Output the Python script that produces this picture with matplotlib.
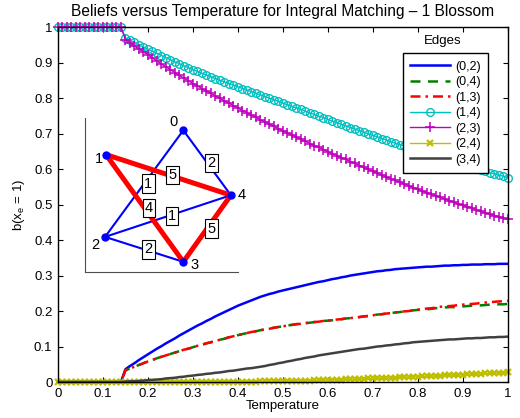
import numpy as np
import matplotlib
matplotlib.use('Agg')
import matplotlib.pyplot as plt

plt.rcParams['font.family'] = ['Liberation Sans', 'DejaVu Sans']
plt.rcParams['mathtext.default'] = 'regular'

# data: temperature grid and beliefs per edge
temperature = np.arange(101) / 100.0

b_02 = [0.0] * 15 + [
    .036, .045, .053, .062, .070, .078, .086, .094, .101, .109,
    .116, .123, .131, .138, .145, .152, .159, .165, .172, .178,
    .185, .191, .197, .203, .209, .215, .220, .225, .230, .235,
    .240, .244, .248, .251, .255, .258, .261, .264, .267, .270,
    .273, .276, .279, .282, .284, .287, .290, .292, .295, .297,
    .300, .302, .304, .306, .308, .310, .312, .313, .315, .316,
    .318, .319, .320, .321, .322, .323, .324, .325, .325, .326,
    .327, .328, .328, .329, .329, .330, .330, .331, .331, .331,
    .332, .332, .332, .333, .333, .333]

b_04 = [0.0] * 15 + [
    .033, .038, .043, .048, .053, .058, .062, .067, .071, .075,
    .079, .083, .087, .091, .094, .098, .102, .105, .109, .112,
    .116, .119, .122, .126, .129, .132, .135, .138, .141, .143,
    .146, .148, .150, .153, .155, .157, .159, .161, .163, .164,
    .166, .167, .169, .170, .172, .173, .174, .176, .177, .179,
    .180, .182, .183, .185, .186, .188, .190, .191, .193, .194,
    .196, .197, .199, .200, .202, .203, .204, .205, .206, .208,
    .209, .210, .211, .211, .212, .213, .214, .215, .215, .216,
    .217, .218, .218, .219, .219, .220]

b_13 = b_04[:80] + [
    .204, .205, .207, .208, .210, .212, .213, .214, .215, .217,
    .218, .219, .220, .221, .223, .224, .225, .226, .227, .228,
    .229]

b_14 = [1.0] * 15 + [
    .970, .963, .957, .950, .944, .938, .932, .926, .920, .914,
    .908, .902, .897, .891, .886, .880, .875, .870, .865, .860,
    .855, .850, .846, .841, .837, .832, .827, .823, .818, .814,
    .809, .804, .800, .795, .791, .786, .781, .777, .772, .768,
    .763, .758, .754, .749, .745, .740, .735, .731, .726, .722,
    .717, .713, .708, .704, .699, .695, .691, .686, .682, .677,
    .673, .669, .665, .661, .657, .653, .649, .645, .641, .637,
    .633, .629, .625, .621, .617, .613, .609, .605, .602, .598,
    .594, .590, .587, .583, .580, .576]

b_23 = [1.0] * 15 + [
    .965, .956, .947, .939, .930, .922, .913, .905, .896, .888,
    .880, .872, .864, .856, .849, .841, .834, .827, .820, .813,
    .806, .799, .792, .786, .779, .772, .765, .759, .752, .746,
    .739, .733, .727, .720, .714, .708, .702, .696, .690, .684,
    .678, .672, .666, .661, .655, .649, .643, .638, .632, .627,
    .621, .616, .610, .605, .599, .594, .589, .583, .578, .573,
    .568, .563, .558, .553, .548, .543, .538, .534, .529, .525,
    .520, .516, .511, .507, .502, .498, .494, .490, .485, .481,
    .477, .473, .469, .466, .462, .458]

b_24 = [0.0] * 35 + [.001] * 10 + [.002] * 5 + [.003] * 5 + [
    .004, .004, .005, .005, .006, .006, .006, .007, .007, .008,
    .008, .008, .009, .009, .010, .010, .010, .011, .011, .012,
    .012, .013, .013, .014, .014, .015, .016, .016, .017, .017,
    .018, .019, .019, .020, .020, .021, .022, .022, .023, .023,
    .024, .025, .025, .026, .026, .027]

b_34 = [0.0] * 15 + [
    .001, .002, .002, .003, .004, .005, .006, .007, .008, .010,
    .011, .012, .014, .015, .017, .018, .020, .021, .023, .024,
    .026, .027, .029, .031, .032, .034, .036, .038, .039, .041,
    .043, .045, .048, .050, .053, .055, .058, .060, .063, .065,
    .068, .070, .072, .075, .077, .079, .081, .083, .085, .087,
    .089, .091, .093, .094, .096, .098, .100, .101, .103, .104,
    .106, .107, .109, .110, .112, .113, .114, .115, .116, .117,
    .118, .119, .120, .120, .121, .122, .123, .123, .124, .124,
    .125, .126, .126, .127, .127, .128]

edge_labels = ['(0,2)', '(0,4)', '(1,3)', '(1,4)', '(2,3)', '(2,4)', '(3,4)']

# inset graph
node_x = [0.643, 0.137, 0.131, 0.643, 0.954]
node_y = [0.922, 0.764, 0.229, 0.067, 0.500]
graph_edges = [(0, 2), (0, 4), (1, 3), (1, 4), (2, 3), (2, 4), (3, 4)]
edge_weights = ['1', '2', '4', '5', '2', '1', '5']
matched = [(1, 3), (1, 4), (3, 4)]

fig = plt.figure(figsize=(5.2, 4.18), dpi=100)
ax = fig.add_axes([0.1115, 0.0861, 0.865, 0.849])

ax.plot(temperature, b_02, color='b', lw=1.8)
ax.plot(temperature, b_04, color=(0, 0.5, 0), lw=1.8, ls=(0, (4, 3)))
ax.plot(temperature, b_13, color='r', lw=1.8, ls=(0, (4, 2, 1, 2)))
ax.plot(temperature, b_14, color=(0, 0.75, 0.75), lw=1, marker='o', ms=5.5,
        mfc='none', mew=1, clip_on=False)
ax.plot(temperature, b_23, color=(0.75, 0, 0.75), lw=1, marker='+', ms=6.5,
        mew=1.1, clip_on=False)
ax.plot(temperature, b_24, color=(0.75, 0.75, 0), lw=1, marker='x', ms=4,
        mew=1.6, clip_on=False)
ax.plot(temperature, b_34, color=(0.25, 0.25, 0.25), lw=1.8)

ax.set_xlim(0, 1)
ax.set_ylim(0, 1)
ticks = np.arange(11) / 10.0
tick_text = ['0'] + ['%.1f' % t for t in ticks[1:-1]] + ['1']
ax.set_xticks(ticks)
ax.set_xticklabels(tick_text)
ax.set_yticks(ticks)
ax.set_yticklabels(tick_text)
ax.tick_params(direction='in', top=True, right=True, length=3.5,
               labelsize=9.5, pad=4)
for s in ax.spines.values():
    s.set_linewidth(1.0)
ax.set_title('Beliefs versus Temperature for Integral Matching \u2013 1 Blossom',
             fontsize=11.2, pad=8)
ax.set_xlabel('Temperature', fontsize=9.5, labelpad=0)
ax.set_ylabel('b(x$_e$ = 1)', fontsize=9.5, labelpad=5)

leg = ax.legend(ax.get_lines(), edge_labels, loc='upper right',
                bbox_to_anchor=(0.957, 0.927), fontsize=9, fancybox=False,
                framealpha=1, edgecolor='k', handlelength=3.2,
                handletextpad=0.4, labelspacing=0.28, borderpad=0.6,
                borderaxespad=0)
leg.get_frame().set_linewidth(1.0)
ax.text(0.855, 0.96, 'Edges', transform=ax.transAxes, ha='center',
        va='center', fontsize=9.5)

# inset with the graph
ins = fig.add_axes([0.1635, 0.349, 0.294, 0.368])
ins.set_xlim(0, 1)
ins.set_ylim(0, 1)
ins.set_xticks([])
ins.set_yticks([])
ins.spines['top'].set_visible(False)
ins.spines['right'].set_visible(False)
ins.spines['left'].set_color('0.3')
ins.spines['bottom'].set_color('0.3')
ins.patch.set_alpha(0)

for (a, b) in graph_edges:
    if (a, b) not in matched:
        ins.plot([node_x[a], node_x[b]], [node_y[a], node_y[b]], color='b',
                 lw=1.5, zorder=2)
for (a, b) in matched:
    ins.plot([node_x[a], node_x[b]], [node_y[a], node_y[b]], color='r',
             lw=3.6, zorder=3, solid_capstyle='round')
ins.plot(node_x, node_y, 'o', color='b', ms=5, zorder=4)

for (a, b), w in zip(graph_edges, edge_weights):
    ins.annotate(w, ((node_x[a] + node_x[b]) / 2, (node_y[a] + node_y[b]) / 2),
                 xytext=(3, 0), textcoords='offset points', ha='center',
                 va='center', fontsize=10.5, zorder=5,
                 bbox=dict(boxstyle='square,pad=0.15', fc='w', ec='k', lw=0.8))

label_offsets = [(-7, 6), (-5, -3), (-7, -6), (8, -2), (8, 0)]
for i, off in enumerate(label_offsets):
    ins.annotate(str(i), (node_x[i], node_y[i]), xytext=off,
                 textcoords='offset points', ha='center', va='center',
                 fontsize=10.5, zorder=5)

fig.savefig('out.png', dpi=100)
